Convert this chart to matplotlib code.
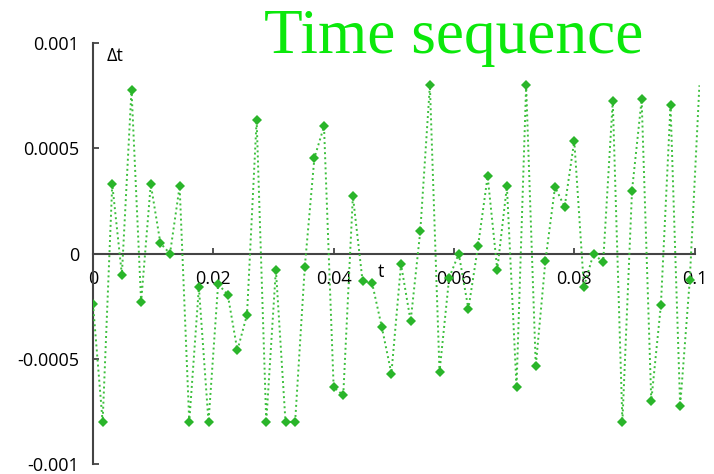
import numpy as np
import matplotlib
matplotlib.use("Agg")
import matplotlib.pyplot as plt

# ---- data ----
dt_values = [
    -0.00024, -0.0008, 0.00033, -0.0001, 0.00078, -0.00023, 0.00033, 0.00005, 0.0, 0.00032,
    -0.0008, -0.00016, -0.0008, -0.000145, -0.000195, -0.00046, -0.00029, 0.000637, -0.0008, -0.000076,
    -0.0008, -0.0008, -0.000065, 0.000455, 0.000605, -0.000635, -0.000673, 0.000274, -0.000128, -0.000141,
    -0.000348, -0.00057, -0.00005, -0.000321, 0.000106, 0.0008, -0.000563, -0.000115, 0.0, -0.000263,
    0.000035, 0.000368, -0.000076, 0.00032, -0.000633, 0.0008, -0.000534, -0.000035, 0.000317, 0.000222,
    0.000537, -0.000157, 0.0, -0.000041, 0.000727, -0.0008, 0.0003, 0.000733, -0.0007, -0.000244,
    0.000706, -0.000725, -0.000125, 0.0008,
]
time_step = 0.0016
t_values = [i * time_step for i in range(len(dt_values))]

x_ticks = [0, 0.02, 0.04, 0.06, 0.08, 0.1]
x_tick_labels = ["0", "0.02", "0.04", "0.06", "0.08", "0.1"]
y_ticks = [-0.001, -0.0005, 0, 0.0005, 0.001]
y_tick_labels = ["-0.001", "-0.0005", "0", "0.0005", "0.001"]
title = "Time sequence"
x_label = "t"
y_label = "\u0394t"

# ---- styling ----
plt.rcParams['font.family'] = ['Open Sans', 'DejaVu Sans']
W, H = 714, 474
fig = plt.figure(figsize=(W / 100, H / 100), dpi=100)
left_px, right_px, top_px, bottom_px = 93, 700, 43.3, 464
ax = fig.add_axes([left_px / W, (H - bottom_px) / H,
                   (right_px - left_px) / W, (bottom_px - top_px) / H])

green_marker = '#2ab52a'
green_line = '#3cbf3c'
axis_color = '#444444'

# markers for every point inside the visible t-range (last point lies beyond the frame edge)
visible_marks = [i for i, t in enumerate(t_values) if t <= 0.1]
ax.plot(t_values, dt_values, linestyle=(0, (1, 1.6)), color=green_line, linewidth=1.4,
        marker='D', markersize=4.6, markerfacecolor=green_marker,
        markeredgewidth=0, markevery=visible_marks, zorder=3)

ax.set_xlim(0, 0.1009)
ax.set_ylim(-0.001, 0.001)

for s in ['top', 'right']:
    ax.spines[s].set_visible(False)
ax.spines['left'].set_position(('data', 0))
ax.spines['bottom'].set_position(('data', 0))
ax.spines['bottom'].set_bounds(0, 0.1)
for s in ['left', 'bottom']:
    ax.spines[s].set_color(axis_color)
    ax.spines[s].set_linewidth(1.5)
    ax.spines[s].set_zorder(2)

ax.set_xticks(x_ticks)
ax.set_xticklabels(x_tick_labels)
ax.set_yticks(y_ticks)
ax.set_yticklabels(y_tick_labels)
ax.tick_params(axis='both', direction='in', length=4, width=1.3, color=axis_color,
               labelsize=13, labelcolor='black')
ax.tick_params(axis='y', pad=10)
ax.tick_params(axis='x', pad=12)
ax.patch.set_alpha(0)

ax.annotate(x_label, xy=(0.0479, 0), xytext=(0, -13), textcoords='offset points',
            ha='center', va='center', fontsize=13)
ax.annotate(y_label, xy=(0.00366, 0.00094), ha='center', va='center', fontsize=13)

fig.text(454 / W, 1 - 53 / H, title, family='Liberation Serif', fontsize=45.5,
         color='#0be80b', ha='center', va='baseline')

fig.savefig('out.png', dpi=100)
